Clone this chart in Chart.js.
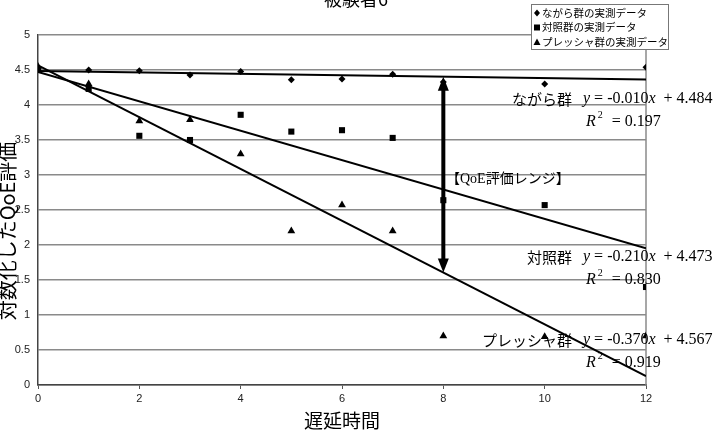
<!DOCTYPE html>
<html>
<head>
<meta charset="utf-8">
<script src="https://cdn.jsdelivr.net/npm/chart.js@4/dist/chart.umd.min.js"></script>
<style>
  html, body { margin: 0; padding: 0; background: #fff; }
</style>
</head>
<body>
<canvas id="chart" width="722" height="436"></canvas>
<script>
// measured data (delay in seconds vs log QoE)
var delays = [0, 1, 2, 3, 4, 5, 6, 7, 8, 10, 12];
var nagaraScores = [4.52, 4.50, 4.49, 4.43, 4.48, 4.36, 4.37, 4.44, 4.33, 4.30, 4.54];
var controlScores = [4.50, 4.23, 3.56, 3.50, 3.86, 3.62, 3.64, 3.53, 2.64, 2.57, 1.40];
var pressureScores = [4.55, 4.30, 3.77, 3.79, 3.30, 2.20, 2.57, 2.20, 0.70, 0.69, 0.70];

var groupNames = ["ながら群", "対照群", "プレッシャ群"];
var legendLabels = ["ながら群の実測データ", "対照群の実測データ", "プレッシャ群の実測データ"];
var slopes = [-0.010, -0.210, -0.370];
var intercepts = [4.484, 4.473, 4.567];
var slopeLabels = ["-0.010", "-0.210", "-0.370"];
var interceptLabels = ["4.484", "4.473", "4.567"];
var rSquared = ["0.197", "0.830", "0.919"];

var xTicks = [0, 2, 4, 6, 8, 10, 12];
var yTicks = [0, 0.5, 1, 1.5, 2, 2.5, 3, 3.5, 4, 4.5, 5];

var rangeAt = 8; // delay where the QoE range arrow sits

function points(ys) {
    return delays.map(function(d, i) { return { x: d, y: ys[i] }; });
}

function trend(i) {
    var x0 = xTicks[0], x1 = xTicks[xTicks.length - 1];
    return [
        { x: x0, y: intercepts[i] + slopes[i] * x0 },
        { x: x1, y: intercepts[i] + slopes[i] * x1 }
    ];
}

var SANS = "'Noto Sans CJK JP', 'Noto Sans', sans-serif";
var SERIF = "'Liberation Serif', 'Noto Sans CJK JP', serif";

function drawEquation(ctx, i, nameRight, eqLeft, yMid, rLeft, rMid) {
    ctx.save();
    ctx.fillStyle = "#000";
    ctx.textBaseline = "middle";
    ctx.font = "15px " + SANS;
    ctx.textAlign = "right";
    ctx.fillText(groupNames[i], nameRight, yMid);

    ctx.textAlign = "left";
    var x = eqLeft;
    ctx.font = "italic 16px " + SERIF;
    ctx.fillText("y", x, yMid);
    x += ctx.measureText("y").width;
    ctx.font = "16px " + SERIF;
    var part = " = " + slopeLabels[i];
    ctx.fillText(part, x, yMid);
    x += ctx.measureText(part).width;
    ctx.font = "italic 16px " + SERIF;
    ctx.fillText("x", x, yMid);
    x += ctx.measureText("x").width;
    ctx.font = "16px " + SERIF;
    ctx.fillText("  + " + interceptLabels[i], x, yMid);

    x = rLeft;
    ctx.font = "italic 16px " + SERIF;
    ctx.fillText("R", x, rMid);
    x += ctx.measureText("R").width + 2;
    ctx.font = "10px " + SERIF;
    ctx.fillText("2", x, rMid - 7);
    x += 14;
    ctx.font = "16px " + SERIF;
    ctx.fillText("= " + rSquared[i], x, rMid);
    ctx.restore();
}

function drawMarker(ctx, kind, x, y) {
    ctx.beginPath();
    if (kind === 0) {
        ctx.moveTo(x, y - 3.5); ctx.lineTo(x + 3, y); ctx.lineTo(x, y + 3.5); ctx.lineTo(x - 3, y);
    } else if (kind === 1) {
        ctx.rect(x - 3, y - 3, 6, 6);
    } else {
        ctx.moveTo(x, y - 3.5); ctx.lineTo(x + 3.5, y + 3); ctx.lineTo(x - 3.5, y + 3);
    }
    ctx.closePath();
    ctx.fill();
}

var decorations = {
    id: "decorations",
    beforeDraw: function(chart) {
        var ctx = chart.ctx;
        ctx.save();
        ctx.fillStyle = "#fff";
        ctx.fillRect(0, 0, chart.width, chart.height);
        ctx.restore();
    },
    beforeDatasetsDraw: function(chart) {
        var ctx = chart.ctx, a = chart.chartArea;
        ctx.save();
        ctx.strokeStyle = "#8a8a8a";
        ctx.lineWidth = 1.5;
        ctx.beginPath();
        ctx.moveTo(a.right, a.top);
        ctx.lineTo(a.right, a.bottom);
        ctx.stroke();
        ctx.restore();
    },
    afterDraw: function(chart) {
        var ctx = chart.ctx;
        var xs = chart.scales.x, ys = chart.scales.y;

        // QoE range arrow between the ながら and プレッシャ fits
        var ax = xs.getPixelForValue(rangeAt);
        var yTop = ys.getPixelForValue(intercepts[0] + slopes[0] * rangeAt);
        var yBot = ys.getPixelForValue(intercepts[2] + slopes[2] * rangeAt);
        ctx.save();
        ctx.fillStyle = "#000";
        ctx.strokeStyle = "#000";
        ctx.lineWidth = 4;
        ctx.beginPath();
        ctx.moveTo(ax, yTop + 10);
        ctx.lineTo(ax, yBot - 10);
        ctx.stroke();
        ctx.beginPath();
        ctx.moveTo(ax, yTop); ctx.lineTo(ax + 5.5, yTop + 14); ctx.lineTo(ax - 5.5, yTop + 14);
        ctx.closePath(); ctx.fill();
        ctx.beginPath();
        ctx.moveTo(ax, yBot); ctx.lineTo(ax + 5.5, yBot - 14); ctx.lineTo(ax - 5.5, yBot - 14);
        ctx.closePath(); ctx.fill();

        ctx.font = "14px " + SERIF;
        ctx.textAlign = "left";
        ctx.textBaseline = "middle";
        ctx.fillText("【QoE評価レンジ】", 446, 179);
        ctx.restore();

        drawEquation(ctx, 0, 572, 583, 99, 586, 122);
        drawEquation(ctx, 1, 572, 583, 257, 586, 280);
        drawEquation(ctx, 2, 572, 583, 340, 586, 363);

        // title (cut off at the top edge as in the original)
        ctx.save();
        ctx.fillStyle = "#000";
        ctx.font = "18px " + SANS;
        ctx.textAlign = "center";
        ctx.textBaseline = "alphabetic";
        ctx.fillText("被験者6", 356, 6);

        // axis titles
        ctx.font = "19px " + SANS;
        ctx.textBaseline = "middle";
        ctx.fillText("遅延時間", 342, 421);
        ctx.translate(7, 231);
        ctx.rotate(-Math.PI / 2);
        ctx.font = "20px " + SANS;
        ctx.fillText("対数化したQoE評価", 0, 0);
        ctx.restore();

        // legend box
        ctx.save();
        ctx.fillStyle = "#fff";
        ctx.fillRect(531, 4, 137, 45);
        ctx.strokeStyle = "#777";
        ctx.lineWidth = 1;
        ctx.strokeRect(531.5, 4.5, 137, 45);
        ctx.fillStyle = "#000";
        ctx.font = "10.5px " + SANS;
        ctx.textAlign = "left";
        ctx.textBaseline = "middle";
        for (var i = 0; i < legendLabels.length; i++) {
            var ly = 13 + i * 14.5;
            drawMarker(ctx, i, 537, ly);
            ctx.fillText(legendLabels[i], 542, ly);
        }
        ctx.restore();
    }
};

var ctx = document.getElementById("chart").getContext("2d");
var chart = new Chart(ctx, {
    type: "scatter",
    data: {
        datasets: [
            { label: legendLabels[0], data: points(nagaraScores), pointStyle: "rectRot", pointRadius: 3.5,
              backgroundColor: "#000", borderColor: "#000", borderWidth: 0 },
            { label: legendLabels[1], data: points(controlScores), pointStyle: "rect", pointRadius: 4.3,
              backgroundColor: "#000", borderColor: "#000", borderWidth: 0 },
            { label: legendLabels[2], data: points(pressureScores), pointStyle: "triangle", pointRadius: 4.5,
              backgroundColor: "#000", borderColor: "#000", borderWidth: 0 },
            { type: "line", data: trend(0), showLine: true, pointRadius: 0, borderColor: "#000", borderWidth: 2 },
            { type: "line", data: trend(1), showLine: true, pointRadius: 0, borderColor: "#000", borderWidth: 2 },
            { type: "line", data: trend(2), showLine: true, pointRadius: 0, borderColor: "#000", borderWidth: 2 }
        ]
    },
    options: {
        responsive: false,
        animation: false,
        devicePixelRatio: 1,
        layout: { padding: { left: 0, top: 35, right: 76, bottom: 0 } },
        plugins: {
            legend: { display: false },
            title: { display: false },
            tooltip: { enabled: false }
        },
        scales: {
            x: {
                type: "linear",
                min: 0,
                max: 12,
                afterFit: function(scale) { scale.height = 51; },
                afterBuildTicks: function(scale) {
                    scale.ticks = xTicks.map(function(v) { return { value: v }; });
                },
                grid: { drawOnChartArea: false, drawTicks: true, tickLength: 4, color: "#555" },
                border: { color: "#444", width: 1.5 },
                ticks: { padding: 3, color: "#222", font: { family: "'Liberation Sans', Arial", size: 11 },
                         callback: function(v) { return String(v); } }
            },
            y: {
                type: "linear",
                min: 0,
                max: 5,
                afterFit: function(scale) { scale.width = 38; },
                afterBuildTicks: function(scale) {
                    scale.ticks = yTicks.map(function(v) { return { value: v }; });
                },
                grid: { drawTicks: false, color: "#8a8a8a", lineWidth: 1.5 },
                border: { color: "#444", width: 1.5 },
                ticks: { padding: 8, color: "#222", font: { family: "'Liberation Sans', Arial", size: 11 },
                         callback: function(v) { return String(v); } }
            }
        }
    },
    plugins: [decorations]
});
</script>
</body>
</html>
